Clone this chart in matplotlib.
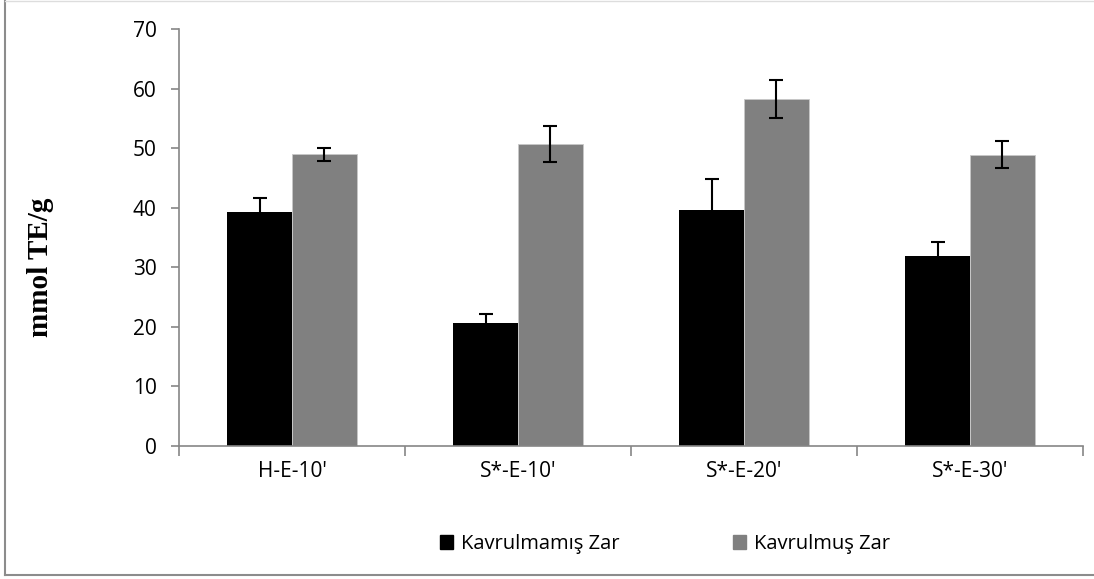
import matplotlib
matplotlib.use("Agg")
import matplotlib.pyplot as plt
from matplotlib.lines import Line2D
from matplotlib.patches import Patch
import numpy as np

categories = ["H-E-10'", "S*-E-10'", "S*-E-20'", "S*-E-30'"]
series_names = ["Kavrulmamış Zar", "Kavrulmuş Zar"]
raw_vals = [39.3, 20.6, 39.7, 31.9]
raw_err = [2.3, 1.5, 5.1, 2.4]
roast_vals = [49.0, 50.7, 58.3, 48.9]
roast_err = [1.1, 3.0, 3.2, 2.3]

W, H = 1094, 579
fig = plt.figure(figsize=(W / 100, H / 100), dpi=100)
ax = fig.add_axes([179 / W, 1 - 446 / H, (1083 - 179) / W, (446 - 29) / H])

axis_col = "#868686"
font = ["Open Sans", "DejaVu Sans"]
fs = 15
x = np.arange(len(categories))
bw = 1 / 3.5
ax.bar(x - bw / 2, raw_vals, bw, color="black", yerr=raw_err,
       error_kw=dict(ecolor="black", capsize=5, elinewidth=1.5, capthick=1.5))
ax.bar(x + bw / 2, roast_vals, bw, color="#808080", edgecolor="#c8c8c8", linewidth=0.6,
       yerr=roast_err,
       error_kw=dict(ecolor="black", capsize=5, elinewidth=1.5, capthick=1.5))

ax.set_xlim(-0.5, len(categories) - 0.5)
ax.set_ylim(0, 70)
ax.set_yticks(range(0, 71, 10))
ax.set_xticks(x)
ax.set_xticklabels(categories)
ax.set_xticks(np.arange(-0.5, len(categories), 1), minor=True)

for s in ["top", "right"]:
    ax.spines[s].set_visible(False)
for s in ["left", "bottom"]:
    ax.spines[s].set_color(axis_col)
    ax.spines[s].set_linewidth(1.2)

ax.tick_params(axis="y", direction="out", length=6, color=axis_col, width=1.2,
               labelsize=fs, pad=10)
ax.tick_params(axis="x", which="major", length=0, labelsize=fs, pad=11)
ax.tick_params(axis="x", which="minor", direction="out", length=7, color=axis_col, width=1.2)
for lab in ax.get_xticklabels() + ax.get_yticklabels():
    lab.set_family(font)

fig.text(41 / W, 1 - 267 / H, "mmol TE/g", rotation=90, ha="center", va="center",
         family="Liberation Serif", fontweight="bold", fontsize=21)

handles = [Patch(color="black"), Patch(color="#808080")]
leg = fig.legend(handles, series_names, loc="center", bbox_to_anchor=(665 / W, 1 - 544 / H),
                 ncol=2, frameon=False, handlelength=0.65, handleheight=0.65,
                 columnspacing=5.6, handletextpad=0.4,
                 prop={"family": font, "size": 14.5})

# chart border
fig.add_artist(Line2D([5 / W, 5 / W], [1 - 575 / H, 1], transform=fig.transFigure,
                      color="#8c8c8c", lw=1.5))
fig.add_artist(Line2D([5 / W, 1], [1 - 575 / H, 1 - 575 / H], transform=fig.transFigure,
                      color="#8c8c8c", lw=1.5))
fig.add_artist(Line2D([5 / W, 1], [1 - 0.8 / H, 1 - 0.8 / H], transform=fig.transFigure,
                      color="#dddddd", lw=1.0))

fig.savefig("out.png", dpi=100)
